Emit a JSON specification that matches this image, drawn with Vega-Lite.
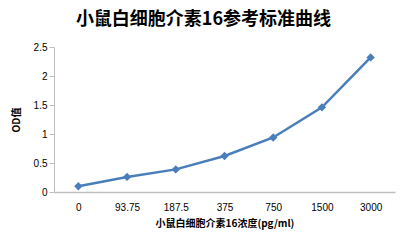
{
  "$schema": "https://vega.github.io/schema/vega-lite/v6.json",
  "width": 341,
  "height": 145,
  "autosize": {"type": "none"},
  "padding": {"left": 54, "top": 47, "right": 13, "bottom": 53},
  "background": "white",
  "title": {
    "text": "小鼠白细胞介素16参考标准曲线",
    "font": "Noto Sans CJK SC",
    "fontSize": 18,
    "fontWeight": "bold",
    "color": "#000000",
    "anchor": "middle",
    "dx": -21,
    "offset": 13
  },
  "data": {
    "values": [
      {"conc": "0", "od": 0.10},
      {"conc": "93.75", "od": 0.26},
      {"conc": "187.5", "od": 0.39},
      {"conc": "375", "od": 0.62},
      {"conc": "750", "od": 0.94},
      {"conc": "1500", "od": 1.46},
      {"conc": "3000", "od": 2.32}
    ]
  },
  "encoding": {
    "x": {
      "field": "conc",
      "type": "ordinal",
      "sort": null,
      "scale": {"padding": 0.5},
      "axis": {
        "title": "小鼠白细胞介素16浓度(pg/ml)",
        "labelAngle": 0,
        "ticks": false,
        "domainColor": "#bfbfbf",
        "domainWidth": 1.5,
        "labelPadding": 10,
        "titlePadding": 6
      }
    },
    "y": {
      "field": "od",
      "type": "quantitative",
      "scale": {"domain": [0, 2.5], "nice": false},
      "axis": {
        "title": "OD值",
        "values": [0, 0.5, 1, 1.5, 2, 2.5],
        "format": "~g",
        "grid": false,
        "tickSize": 5,
        "tickColor": "#bfbfbf",
        "domainColor": "#bfbfbf",
        "labelPadding": 2,
        "titlePadding": 12
      }
    }
  },
  "layer": [
    {"mark": {"type": "line", "color": "#4a7ebb", "strokeWidth": 2.5}},
    {"mark": {"type": "point", "shape": "diamond", "filled": true, "opacity": 1, "color": "#4a7ebb", "size": 70}}
  ],
  "config": {
    "view": {"stroke": null},
    "axis": {
      "labelFont": "Liberation Sans",
      "labelFontSize": 10,
      "labelColor": "#000000",
      "titleFont": "Noto Sans CJK SC",
      "titleFontSize": 10,
      "titleFontWeight": "bold",
      "titleColor": "#000000"
    }
  }
}
